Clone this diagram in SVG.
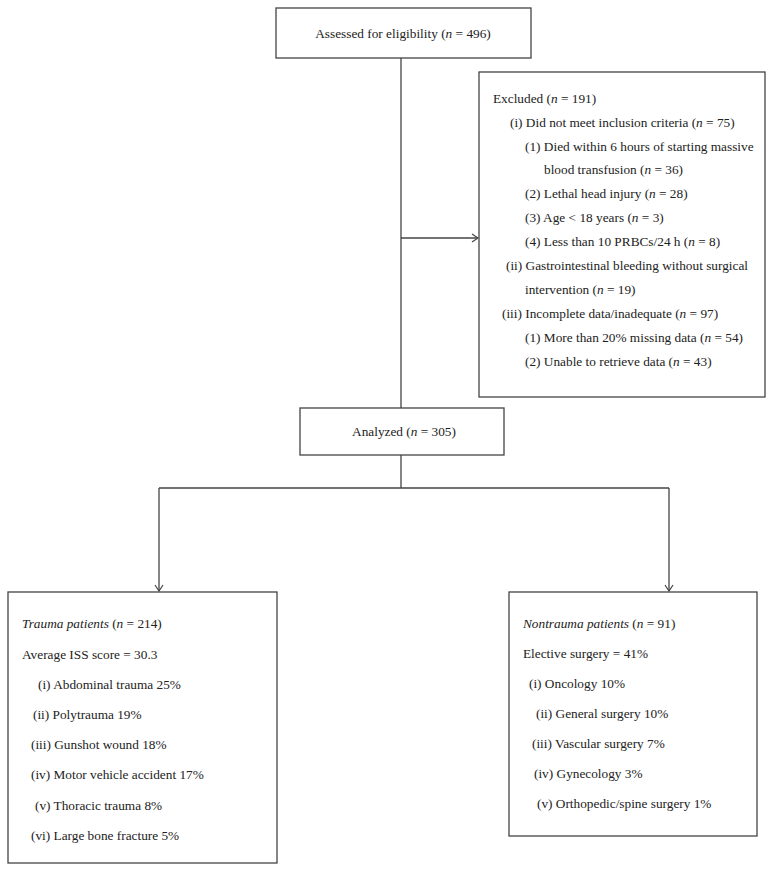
<svg xmlns="http://www.w3.org/2000/svg" width="774" height="872" viewBox="0 0 774 872">
<defs>
<style>
.box{fill:#fff;stroke:#444;stroke-width:1.3}
.ln{fill:none;stroke:#444;stroke-width:1.3}
text{font-family:"Liberation Serif","Times New Roman",serif;font-size:13.3px;fill:#222}
.c{text-anchor:middle}
.i{font-style:italic}
</style>
<marker id="ah" markerWidth="8" markerHeight="10" refX="7" refY="5" orient="auto" markerUnits="userSpaceOnUse">
<path d="M1,1 L7,5 L1,9" fill="none" stroke="#444" stroke-width="1.2"/>
</marker>
</defs>
<rect width="774" height="872" fill="#fff"/>
<g id="connectors">
<line class="ln" x1="401" y1="58" x2="401" y2="408"/>
<line class="ln" x1="401" y1="238" x2="478" y2="238" marker-end="url(#ah)"/>
<line class="ln" x1="401" y1="455" x2="401" y2="488"/>
<line class="ln" x1="159" y1="488" x2="669" y2="488"/>
<line class="ln" x1="159" y1="488" x2="159" y2="591" marker-end="url(#ah)"/>
<line class="ln" x1="669" y1="488" x2="669" y2="591" marker-end="url(#ah)"/>
</g>
<g id="assessed">
<rect class="box" x="276" y="8" width="255" height="50"/>
<text class="c" x="403" y="38">Assessed for eligibility (<tspan class="i">n</tspan> = 496)</text>
</g>
<g id="excluded">
<rect class="box" x="479" y="72" width="286" height="325"/>
<text x="493" y="103">Excluded (<tspan class="i">n</tspan> = 191)</text>
<text x="510" y="127">(i) Did not meet inclusion criteria (<tspan class="i">n</tspan> = 75)</text>
<text x="525" y="151">(1) Died within 6 hours of starting massive</text>
<text x="544" y="174">blood transfusion (<tspan class="i">n</tspan> = 36)</text>
<text x="525" y="198">(2) Lethal head injury (<tspan class="i">n</tspan> = 28)</text>
<text x="525" y="222">(3) Age &lt; 18 years (<tspan class="i">n</tspan> = 3)</text>
<text x="525" y="246">(4) Less than 10 PRBCs/24 h (<tspan class="i">n</tspan> = 8)</text>
<text x="506" y="270">(ii) Gastrointestinal bleeding without surgical</text>
<text x="525" y="294">intervention (<tspan class="i">n</tspan> = 19)</text>
<text x="502" y="318">(iii) Incomplete data/inadequate (<tspan class="i">n</tspan> = 97)</text>
<text x="525" y="342">(1) More than 20% missing data (<tspan class="i">n</tspan> = 54)</text>
<text x="525" y="366">(2) Unable to retrieve data (<tspan class="i">n</tspan> = 43)</text>
</g>
<g id="analyzed">
<rect class="box" x="300" y="408" width="204" height="47"/>
<text class="c" x="404" y="436">Analyzed (<tspan class="i">n</tspan> = 305)</text>
</g>
<g id="trauma">
<rect class="box" x="8" y="592" width="269" height="271"/>
<text x="22" y="628"><tspan class="i">Trauma patients</tspan> (<tspan class="i">n</tspan> = 214)</text>
<text x="22" y="659">Average ISS score = 30.3</text>
<text x="38" y="689">(i) Abdominal trauma 25%</text>
<text x="33" y="719">(ii) Polytrauma 19%</text>
<text x="31" y="749">(iii) Gunshot wound 18%</text>
<text x="31" y="779">(iv) Motor vehicle accident 17%</text>
<text x="35" y="810">(v) Thoracic trauma 8%</text>
<text x="31" y="840">(vi) Large bone fracture 5%</text>
</g>
<g id="nontrauma">
<rect class="box" x="509" y="592" width="248" height="244"/>
<text x="523" y="628"><tspan class="i">Nontrauma patients</tspan> (<tspan class="i">n</tspan> = 91)</text>
<text x="523" y="658">Elective surgery = 41%</text>
<text x="529" y="688">(i) Oncology 10%</text>
<text x="536" y="718">(ii) General surgery 10%</text>
<text x="532" y="748">(iii) Vascular surgery 7%</text>
<text x="534" y="778">(iv) Gynecology 3%</text>
<text x="537" y="808">(v) Orthopedic/spine surgery 1%</text>
</g>
</svg>
